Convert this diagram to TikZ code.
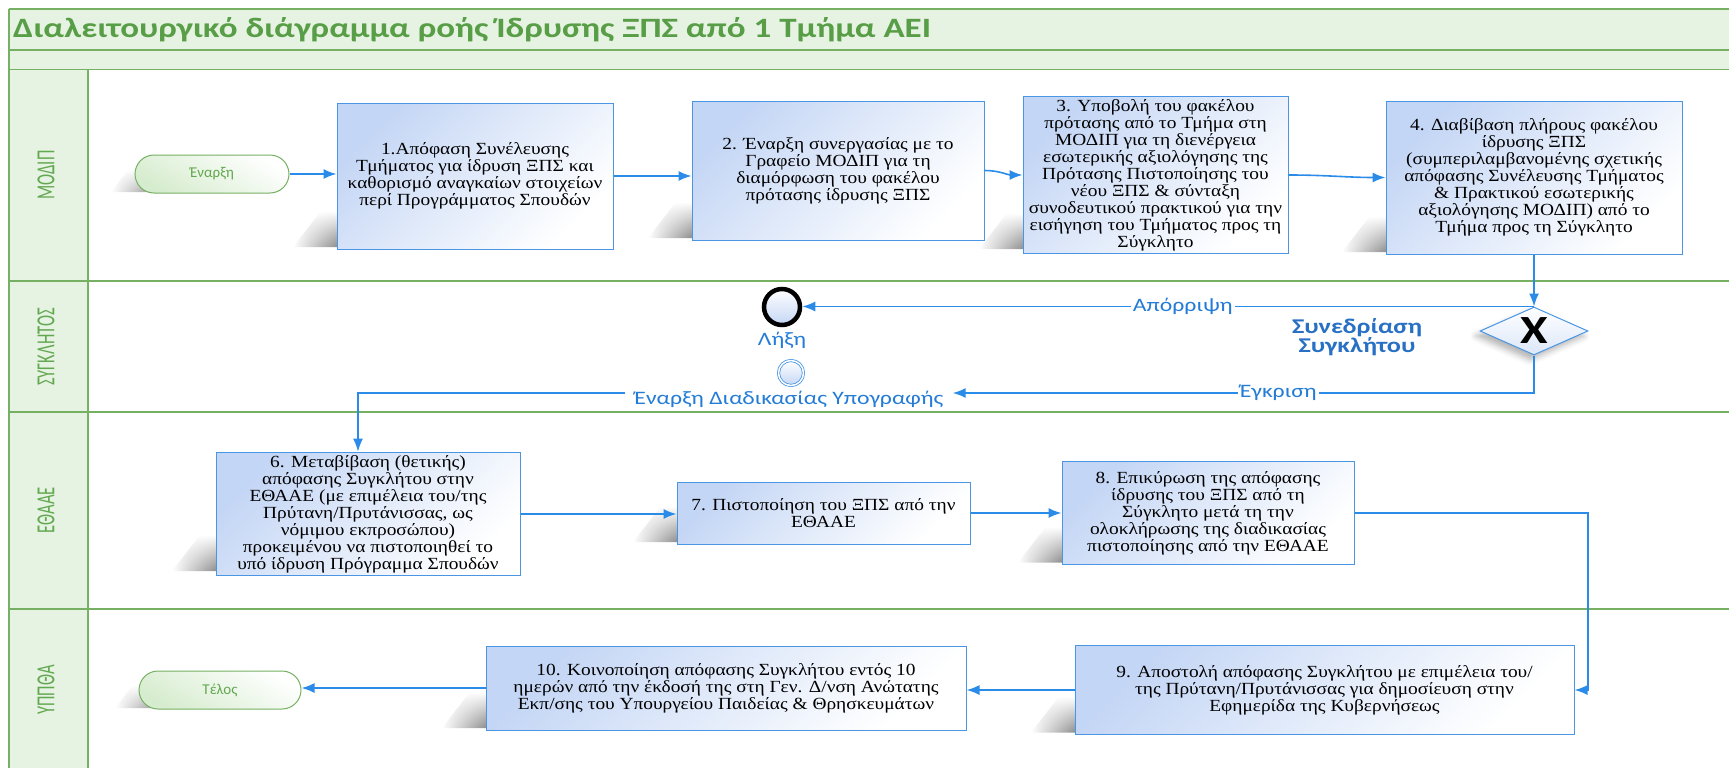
\documentclass[tikz,border=0pt]{standalone}
\usepackage{fontspec}
\setmainfont{Liberation Serif}
\newfontfamily\boxfont[FakeStretch=1.14]{Liberation Serif}
\newfontfamily\carl{Carlito}
\newfontfamily\carlw[FakeStretch=1.25]{Carlito}
\usetikzlibrary{arrows.meta,shadows.blur,shapes.geometric,calc,fadings}
\definecolor{gline}{RGB}{118,176,98}
\definecolor{gfill}{RGB}{230,242,226}
\definecolor{gtext}{RGB}{98,168,80}
\definecolor{gtitle}{RGB}{88,158,70}
\definecolor{bline}{RGB}{42,140,232}
\definecolor{bbord}{RGB}{74,150,228}
\definecolor{bgrad}{RGB}{196,214,245}
\definecolor{blabel}{RGB}{36,124,214}
\definecolor{bbold}{RGB}{40,112,196}
\definecolor{pillg}{RGB}{214,236,206}
\definecolor{shadowc}{RGB}{120,120,120}
\tikzset{
  flow/.style={draw=bline, line width=1.6pt, -{Latex[length=13pt,width=10pt]}},
  lanesep/.style={draw=gline, line width=1.2pt},
  lanelabel/.style={rotate=90, text=gtext, font=\carl\fontsize{26}{26}\selectfont},
  task/.style={draw=bbord, line width=1pt, rectangle, align=center,
    font=\boxfont\fontsize{17}{17}\selectfont, inner sep=3pt,
    top color=bgrad, bottom color=white, shading angle=45},
  pill/.style={draw=gline, line width=1pt, rectangle, rounded corners=19pt,
    minimum height=38pt, text=gtext, font=\carl\fontsize{15}{15}\selectfont,
    top color=white, bottom color=pillg, shading angle=-30},
  bpmnlabel/.style={text=blabel, font=\carlw\fontsize{19}{19}\selectfont, inner sep=2pt},
  shadowwedge/.style={left color=white, right color=shadowc, path fading=north},
}
% #1 name, #2 cx, #3 cy, #4 width, #5 height, #6 text
\newcommand{\taskbox}[6]{%
  \shade[shadowwedge]
    ({#2-0.5*#4-44},{#3+0.5*#5-2}) -- ({#2-0.5*#4+8},{#3+0.5*#5-2}) --
    ({#2-0.5*#4+8},{#3+0.5*#5-38}) -- ({#2-0.5*#4-16},{#3+0.5*#5-38}) -- cycle;
  \node[task, minimum width=#4pt, minimum height=#5pt] (#1) at (#2,#3) {#6};}
% #1 name, #2 cx, #3 cy, #4 width, #5 text
\newcommand{\pillbox}[5]{%
  \shade[shadowwedge]
    ({#2-0.5*#4-24},{#3+19-1}) -- ({#2-0.5*#4+30},{#3+19-1}) --
    ({#2-0.5*#4+30},{#3+19-24}) -- ({#2-0.5*#4-6},{#3+19-24}) -- cycle;
  \node[pill, minimum width=#4pt] (#1) at (#2,#3) {#5};}
\begin{document}
\begin{tikzpicture}[x=1pt, y=-1pt]
\useasboundingbox (0,0) rectangle (1729,768);
% pool background
\fill[gfill] (9,9) rectangle (1729,69.5);
\fill[gfill] (9,69.5) rectangle (88,768);
\draw[lanesep] (9,9) -- (1729,9);
\draw[lanesep] (9,50) -- (1729,50);
\draw[lanesep] (9,69.5) -- (1729,69.5);
\draw[lanesep] (9,281) -- (1729,281);
\draw[lanesep] (9,412) -- (1729,412);
\draw[lanesep] (9,609) -- (1729,609);
\draw[lanesep] (9,9) -- (9,768);
\draw[lanesep] (88,69.5) -- (88,768);
% title
\node[anchor=west, text=gtitle, font=\carlw\bfseries\fontsize{28}{28}\selectfont, inner sep=0pt] (title) at (13,30)
  {Διαλειτουργικό διάγραμμα ροής Ίδρυσης ΞΠΣ από 1 Τμήμα ΑΕΙ};
% lane labels
\node[lanelabel] (l1) at (46,175) {\scalebox{0.64}[1]{ΜΟΔΙΠ}};
\node[lanelabel] (l2) at (46,347) {\scalebox{0.64}[1]{ΣΥΓΚΛΗΤΟΣ}};
\node[lanelabel] (l3) at (46,510) {\scalebox{0.64}[1]{ΕΘΑΑΕ}};
\node[lanelabel] (l4) at (46,690) {\scalebox{0.64}[1]{ΥΠΠΘΑ}};
% start / end
\pillbox{start}{212}{174}{154}{Έναρξη}
\pillbox{end}{220}{690}{162}{Τέλος}
% tasks
\taskbox{b1}{475}{176}{276}{146}
 {1.Απόφαση Συνέλευσης\\Τμήματος για ίδρυση ΞΠΣ και\\καθορισμό αναγκαίων στοιχείων\\περί Προγράμματος Σπουδών}
\taskbox{b2}{838}{170.5}{292}{139}
 {2. Έναρξη συνεργασίας με το\\Γραφείο ΜΟΔΙΠ για τη\\διαμόρφωση του φακέλου\\πρότασης ίδρυσης ΞΠΣ}
\taskbox{b3}{1155.5}{175}{265}{152}
 {3. Υποβολή του φακέλου\\πρότασης από το Τμήμα στη\\ΜΟΔΙΠ για τη διενέργεια\\εσωτερικής αξιολόγησης της\\Πρότασης Πιστοποίησης του\\νέου ΞΠΣ \& σύνταξη\\συνοδευτικού πρακτικού για την\\εισήγηση του Τμήματος προς τη\\Σύγκλητο}
\taskbox{b4}{1534}{177.5}{296}{153}
 {4. Διαβίβαση πλήρους φακέλου\\ίδρυσης ΞΠΣ\\(συμπεριλαμβανομένης σχετικής\\απόφασης Συνέλευσης Τμήματος\\\& Πρακτικού εσωτερικής\\αξιολόγησης ΜΟΔΙΠ) από το\\Τμήμα προς τη Σύγκλητο}
\taskbox{b6}{368}{514}{304}{118}
 {6. Μεταβίβαση (θετικής)\\απόφασης Συγκλήτου στην\\ΕΘΑΑΕ (με επιμέλεια του/της\\Πρύτανη/Πρυτάνισσας, ως\\νόμιμου εκπροσώπου)\\προκειμένου να πιστοποιηθεί το\\υπό ίδρυση Πρόγραμμα Σπουδών}
\taskbox{b7}{823.5}{513}{293}{62}
 {7. Πιστοποίηση του ΞΠΣ από την\\ΕΘΑΑΕ}
\taskbox{b8}{1208}{513}{292}{103}
 {8. Επικύρωση της απόφασης\\ίδρυσης του ΞΠΣ από τη\\Σύγκλητο μετά τη την\\ολοκλήρωσης της διαδικασίας\\πιστοποίησης από την ΕΘΑΑΕ}
\taskbox{b9}{1324.5}{690}{499}{89}
 {9. Αποστολή απόφασης Συγκλήτου με επιμέλεια του/\\της Πρύτανη/Πρυτάνισσας για δημοσίευση στην\\Εφημερίδα της Κυβερνήσεως}
\taskbox{b10}{726}{688}{480}{84}
 {10. Κοινοποίηση απόφασης Συγκλήτου εντός 10\\ημερών από την έκδοσή της στη Γεν. Δ/νση Ανώτατης\\Εκπ/σης του Υπουργείου Παιδείας \& Θρησκευμάτων}
% gateway and events
\node[diamond, draw=bbord, line width=1pt, minimum width=108pt, minimum height=48pt, inner sep=0pt,
  top color=white, bottom color=bgrad!60,
  blur shadow={shadow xshift=-4pt, shadow yshift=-5pt, shadow opacity=30, shadow blur radius=6pt}] (gw) at (1534,331) {};
\node[font=\carlw\bfseries\fontsize{40}{40}\selectfont, inner sep=0pt] (gwx) at (gw.center) {X};
\node[circle, draw=black, line width=4.5pt, minimum size=36pt, inner sep=0pt,
  top color=white, bottom color=bgrad] (lixi) at (782,307) {};
\node[bpmnlabel, anchor=north] (lixit) at ([yshift=-3pt]lixi.south) {Λήξη};
\node[circle, draw=bbord, double=white, double distance=1.5pt, line width=0.8pt, minimum size=25pt, inner sep=0pt,
  top color=white, bottom color=bgrad] (sigc) at (791,373) {};
\node[bpmnlabel, inner sep=9pt] (sig) at (789,399) {Έναρξη Διαδικασίας Υπογραφής};
\node[text=bbold, font=\carlw\bfseries\fontsize{21}{19}\selectfont, align=center] (sen) at (1357,337) {Συνεδρίαση\\Συγκλήτου};
% connectors
\draw[flow] (start.east) -- (start.east -| b1.west);
\draw[flow] (b1.east) -- (b1.east -| b2.west);
\draw[flow] (b2.east) to[out=0,in=180] (b3.west);
\draw[flow] (b3.east) to[out=0,in=180] (b4.west);
\draw[flow] (b4.south) -- (gw.north);
\draw[flow] (gw.north) -- (gw.north -| lixi.east) node[pos=0.48, fill=white, bpmnlabel] (apor) {Απόρριψη};
\draw[flow] (gw.south) |- ([yshift=6pt]sig.east) node[pos=0.72, fill=white, bpmnlabel] (egk) {Έγκριση};
\draw[flow] ([yshift=6pt]sig.west) -| ([xshift=-10pt]b6.north);
\draw[flow] (b6.east) -- (b6.east -| b7.west);
\draw[flow] (b7.east) -- (b7.east -| b8.west);
\coordinate (c89) at (1588,513);
\draw[flow] (b8.east) -- (c89) |- (b9.east);
\draw[flow] (b9.west) -- (b9.west -| b10.east);
\draw[flow] (b10.west) -- (b10.west -| end.east);
\end{tikzpicture}
\end{document}
